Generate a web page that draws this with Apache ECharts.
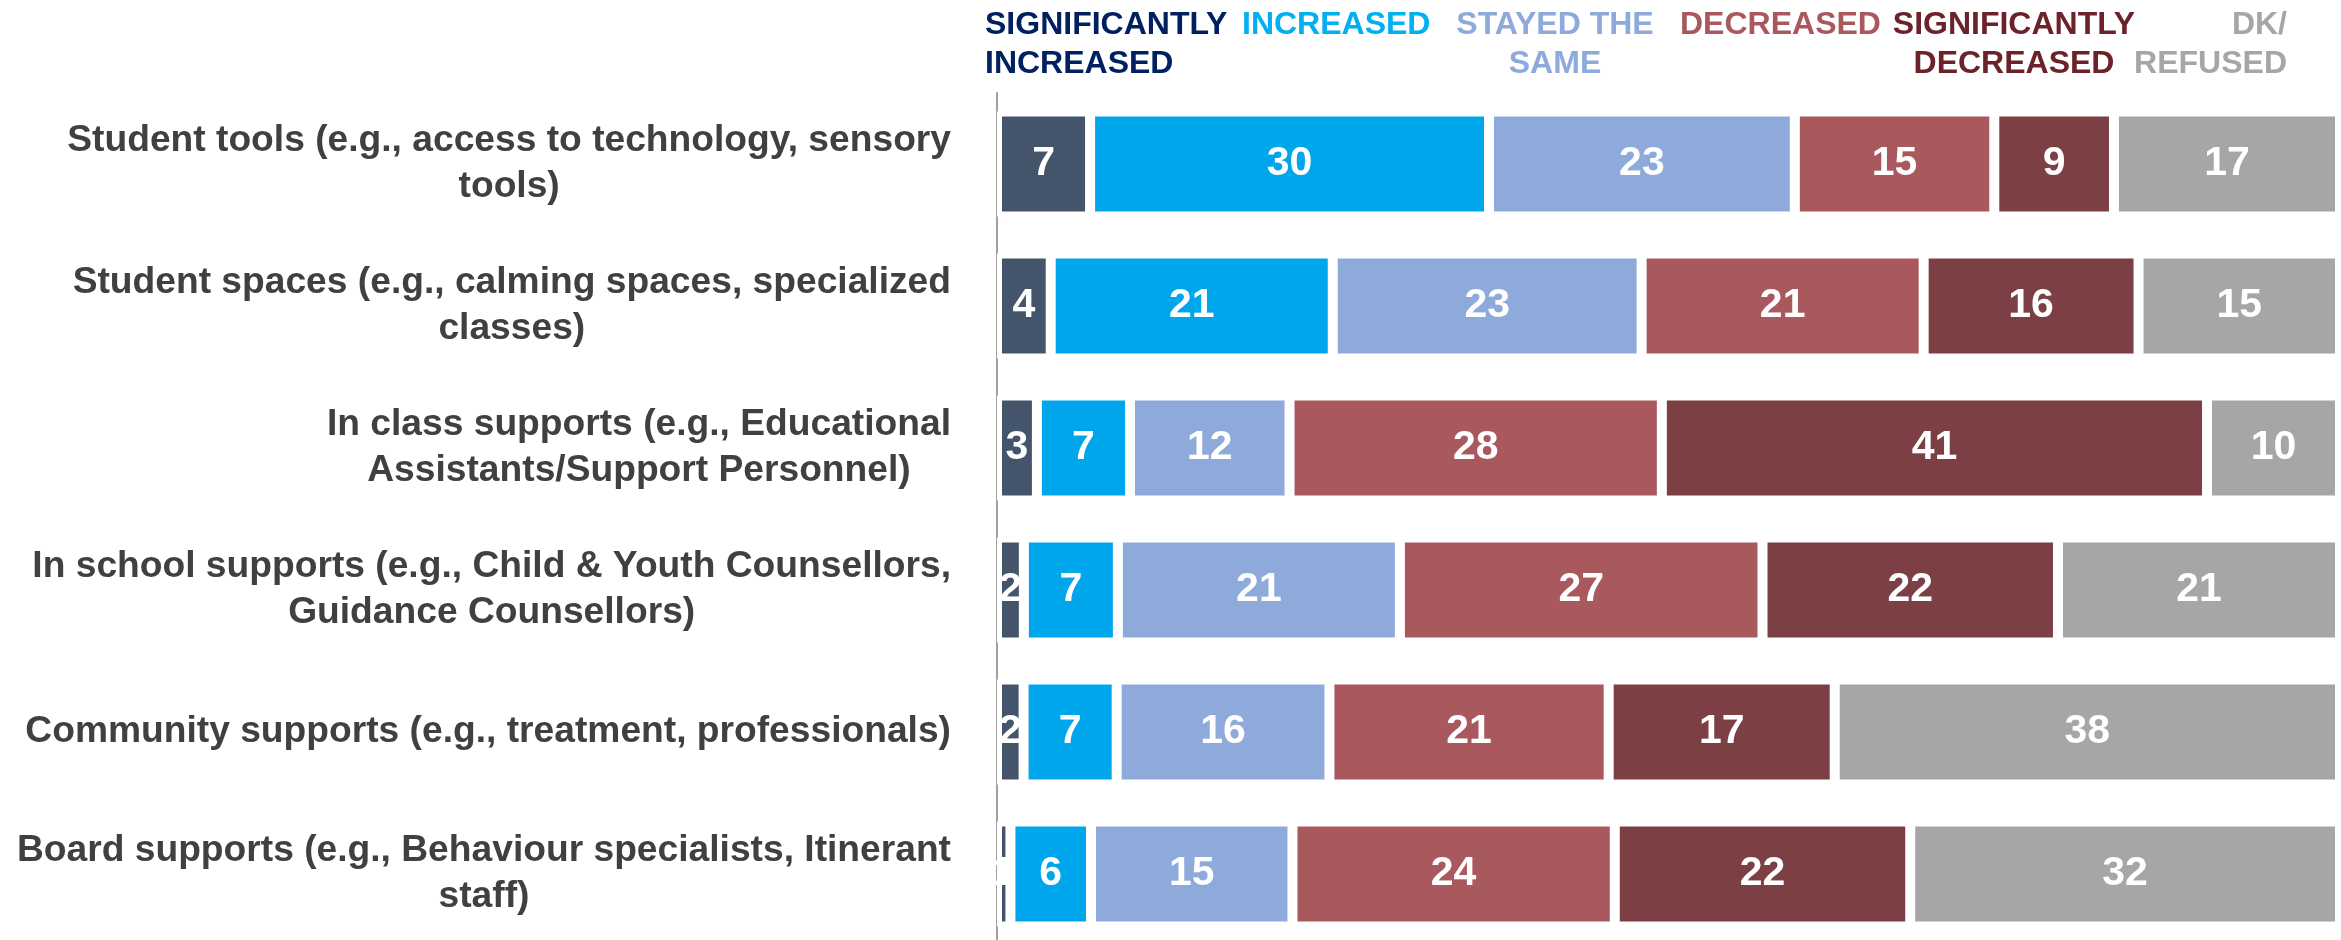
<!DOCTYPE html>
<html>
<head>
<meta charset="utf-8">
<script src="https://cdn.jsdelivr.net/npm/echarts@6/dist/echarts.min.js"></script>
<style>
  html, body { margin: 0; padding: 0; background: #fff; }
  #chart { width: 2341px; height: 940px; }
</style>
</head>
<body>
<div id="chart"></div>
<script>
// categories (line breaks as in the picture)
var categories = [
  'Student tools (e.g., access to technology, sensory\ntools)',
  'Student spaces (e.g., calming spaces, specialized\nclasses)',
  'In class supports (e.g., Educational\nAssistants/Support Personnel)',
  'In school supports (e.g., Child & Youth Counsellors,\nGuidance Counsellors)',
  'Community supports (e.g., treatment, professionals)',
  'Board supports (e.g., Behaviour specialists, Itinerant\nstaff)'
];
var seriesNames = ['SIGNIFICANTLY\nINCREASED', 'INCREASED', 'STAYED THE\nSAME', 'DECREASED', 'SIGNIFICANTLY\nDECREASED', 'DK/\nREFUSED'];

// values per answer, one entry per category
var sigIncreased = [7, 4, 3, 2, 2, 1];
var increased    = [30, 21, 7, 7, 7, 6];
var stayedSame   = [23, 23, 12, 21, 16, 15];
var decreased    = [15, 21, 28, 27, 21, 24];
var sigDecreased = [9, 16, 41, 22, 17, 22];
var dkRefused    = [17, 15, 10, 21, 38, 32];

var allValues = [sigIncreased, increased, stayedSame, decreased, sigDecreased, dkRefused];

// styling
var barColors  = ['#44546a', '#00a6eb', '#8eaadb', '#a9585e', '#7b3f44', '#a6a6a6'];
var textColors = ['#002060', '#00b0f0', '#8eaadb', '#a9585e', '#6b2229', '#a6a6a6'];
var legendLayout = [
  { x: 985,  align: 'left' },
  { x: 1242, align: 'left' },
  { x: 1555, align: 'center' },
  { x: 1680, align: 'left' },
  { x: 2014, align: 'center' },
  { x: 2287, align: 'right' }
];
var FONT = '"Liberation Sans", Arial, sans-serif';

// every row fills the full width (100% stacked)
var rowTotals = categories.map(function (c, i) {
  return allValues.reduce(function (s, arr) { return s + arr[i]; }, 0);
});

var series = allValues.map(function (vals, si) {
  return {
    name: seriesNames[si],
    type: 'bar',
    stack: 'total',
    barWidth: 105,
    data: vals.map(function (v, i) { return v / rowTotals[i] * 100; }),
    itemStyle: { color: barColors[si], borderColor: '#fff', borderWidth: 5 },
    label: {
      show: true,
      position: 'inside',
      color: '#fff',
      fontFamily: FONT,
      fontWeight: 'bold',
      fontSize: 41,
      formatter: function (p) { return vals[p.dataIndex]; }
    },
    emphasis: { disabled: true },
    animation: false
  };
});

var chart = echarts.init(document.getElementById('chart'));
chart.setOption({
  backgroundColor: '#fff',
  animation: false,
  grid: { left: 997, right: 1, top: 93, height: 852, containLabel: false, outerBoundsMode: 'none' },
  xAxis: { type: 'value', min: 0, max: 100, show: false },
  yAxis: {
    type: 'category',
    inverse: true,
    data: categories,
    axisLine: { show: true, lineStyle: { color: '#a0a0a0', width: 2 } },
    axisTick: { show: false },
    splitLine: { show: false },
    axisLabel: {
      margin: 46,
      color: '#404040',
      fontFamily: FONT,
      fontWeight: 'bold',
      fontSize: 37.2,
      lineHeight: 46,
      formatter: function (v) {
        return v.split('\n').map(function (l) { return '{c|' + l + '}'; }).join('\n');
      },
      rich: {
        c: { align: 'center', color: '#404040', fontFamily: FONT, fontWeight: 'bold', fontSize: 37.2, lineHeight: 46 }
      }
    }
  },
  graphic: seriesNames.map(function (name, i) {
    return {
      type: 'text',
      x: legendLayout[i].x,
      y: 6,
      style: {
        text: name,
        fill: textColors[i],
        fontFamily: FONT,
        fontWeight: 'bold',
        fontSize: 32,
        lineHeight: 39,
        align: legendLayout[i].align,
        verticalAlign: 'top'
      }
    };
  }),
  series: series
});
</script>
</body>
</html>
